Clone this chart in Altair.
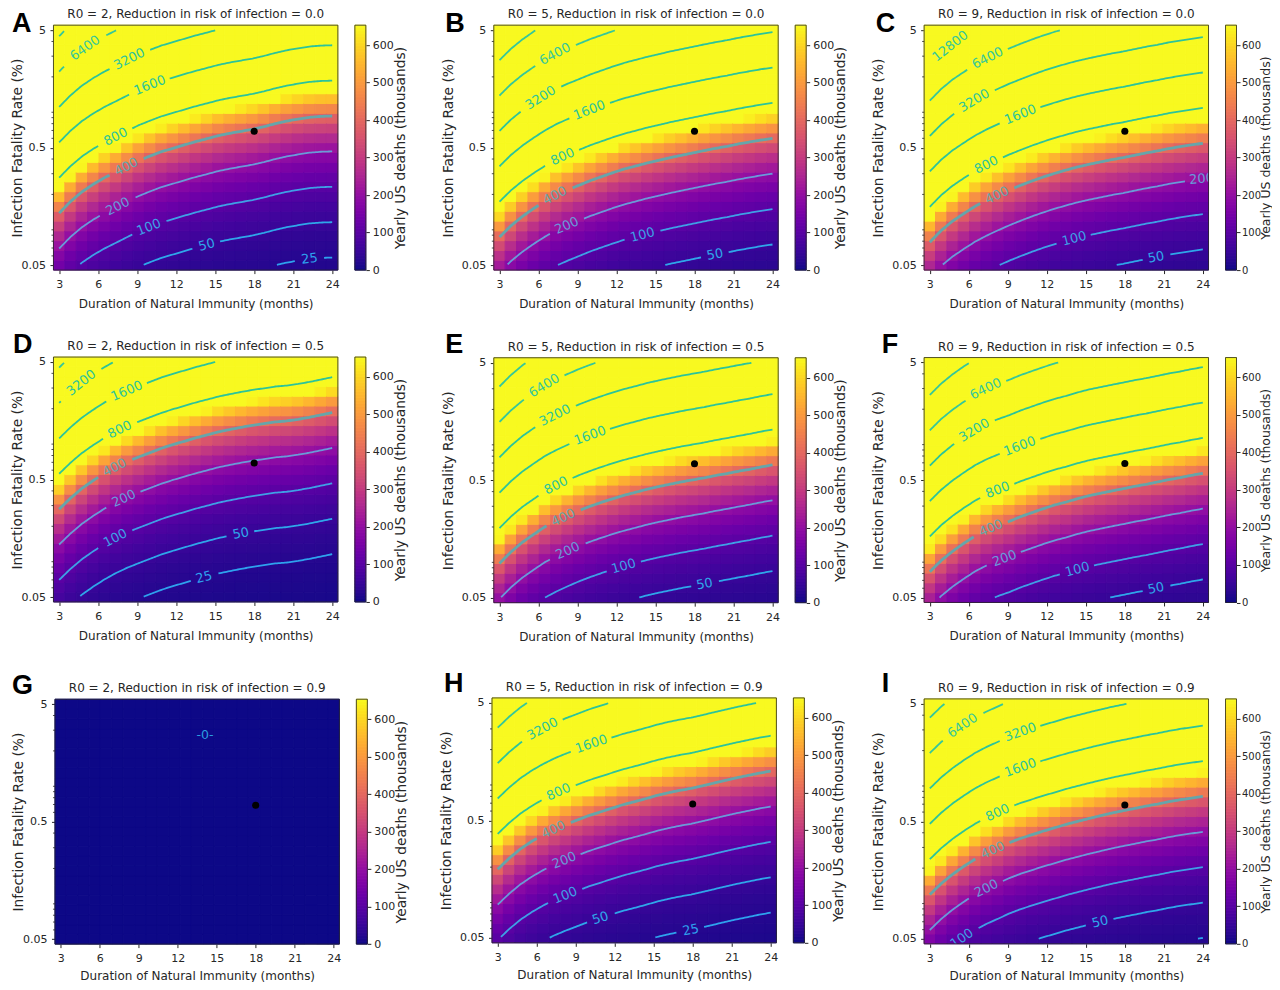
import math
import numpy as np
import altair as alt

# months sampled by the 25 image columns
MONTHS = [3, 3.875, 4.75, 5.625, 6.5, 7.375, 8.25, 9.125, 10, 10.875, 11.75, 12.625, 13.5,
          14.375, 15.25, 16.125, 17, 17.875, 18.75, 19.625, 20.5, 21.375, 22.25, 23.125, 24]
LEVELS = [25, 50, 100, 200, 400, 800, 1600, 3200, 6400, 12800]
LEVEL_COLORS = {25: "#2ea2ee", 50: "#2fa6ea", 100: "#3f9fe6", 200: "#6a9ad8", 400: "#66a5aa", 800: "#2cc49a",
                1600: "#2cc49a", 3200: "#2cc49a", 6400: "#35c79a", 12800: "#35c79a"}
PLASMA = ["#0d0887", "#41049d", "#6a00a8", "#8f0da4", "#b12a90", "#cc4778", "#e16462", "#f2844b", "#fca636",
          "#fcce25", "#f8f920"]

# IFR on the 400k-deaths contour, read column by column: 1000*log10(IFR / 0.5%)
A400 = [-557,-458,-376,-311,-255,-207,-158,-110,-71,-34,-6,23,51,76,102,122,139,156,178,204,226,243,258,266,269]
B400 = [-761,-665,-586,-518,-456,-402,-359,-320,-280,-246,-212,-181,-156,-130,-108,-85,-65,-45,-25,-6,11,31,48,65,79]
C400 = [-804,-705,-625,-560,-498,-447,-402,-359,-320,-283,-249,-218,-190,-164,-142,-122,-102,-85,-65,-45,-28,-8,8,23,37]
D400 = [-252,-158,-76,-8,54,108,153,192,229,266,297,325,354,379,405,425,444,461,475,490,498,512,529,549,569]
E400 = [-708,-611,-529,-461,-396,-345,-300,-258,-221,-187,-156,-127,-102,-76,-54,-34,-14,3,20,40,57,76,93,113,130]
F400 = [-781,-685,-606,-538,-475,-425,-385,-351,-311,-277,-243,-212,-187,-158,-133,-113,-93,-74,-54,-37,-17,3,20,40,57]
H400 = [-416,-323,-243,-178,-122,-74,-34,3,40,71,102,133,158,184,212,235,255,272,294,317,340,362,382,402,419]
I400 = [-623,-529,-450,-382,-320,-269,-226,-181,-144,-113,-82,-54,-25,0,25,48,71,91,110,130,147,167,184,198,212]

# contour label positions: level -> month
A_LABELS = {6400: 5.0, 3200: 8.4, 1600: 9.97, 800: 7.35, 400: 8.17, 200: 7.5, 100: 9.9, 50: 14.35, 25: 22.25}
B_LABELS = {6400: 7.27, 3200: 6.17, 1600: 9.92, 800: 7.86, 400: 7.27, 200: 8.17, 100: 14.0, 50: 19.57}
C_LABELS = {12800: 4.57, 6400: 7.45, 3200: 6.42, 1600: 9.97, 800: 7.35, 400: 8.17, 200: 23.9, 100: 14.1, 50: 20.4}
D_LABELS = {3200: 4.7, 1600: 8.2, 800: 7.66, 400: 7.27, 200: 7.97, 100: 7.32, 50: 16.97, 25: 14.14}
E_LABELS = {6400: 6.45, 3200: 7.27, 1600: 9.97, 800: 7.35, 400: 7.9, 200: 8.25, 100: 12.55, 50: 18.77}
F_LABELS = {6400: 7.3, 3200: 6.42, 1600: 9.92, 800: 8.22, 400: 7.7, 200: 8.74, 100: 14.35, 50: 20.4}
H_LABELS = {3200: 6.45, 1600: 10.2, 800: 7.68, 400: 7.3, 200: 8.12, 100: 8.2, 50: 10.9, 25: 17.85}
I_LABELS = {6400: 5.52, 3200: 9.97, 1600: 9.97, 800: 8.22, 400: 7.86, 200: 7.35, 100: 5.47, 50: 16.1}

TITLES = ["R0 = 2, Reduction in risk of infection = 0.0", "R0 = 5, Reduction in risk of infection = 0.0",
          "R0 = 9, Reduction in risk of infection = 0.0", "R0 = 2, Reduction in risk of infection = 0.5",
          "R0 = 5, Reduction in risk of infection = 0.5", "R0 = 9, Reduction in risk of infection = 0.5",
          "R0 = 2, Reduction in risk of infection = 0.9", "R0 = 5, Reduction in risk of infection = 0.9",
          "R0 = 9, Reduction in risk of infection = 0.9"]
LETTERS = list("ABCDEFGHI")
SERIES = [A400, B400, C400, D400, E400, F400, None, H400, I400]
LABELS = [A_LABELS, B_LABELS, C_LABELS, D_LABELS, E_LABELS, F_LABELS, {}, H_LABELS, I_LABELS]
# plot offset inside each cell and letter offset from the plot corner
DX = [0, 10, 10, 0, 10, 10, 1.5, 8.2, 10]
DY = [0, 0, 0, 0, 0.7, 0.5, 10.3, 9, 10]
LET = [(-41.5, 7), (-48.5, 7), (-48.5, 7), (-40.5, -4), (-48.5, -5), (-42.5, -5), (-43, -5), (-48, -6), (-42.5, -7)]
YT_PAD = [-3, 6, 6, -3, 6, 6, -3, 6, 6]
XT_PAD = [9, 9, 9, 9, 9, 9, 7, 7, 7]
# third-column colour bars are tightened to stay inside the page
CB_PAD = [14, 14, 12, 14, 14, 12, 14, 14, 12]
CB_TITLE_SIZE = [13.8, 13.8, 12.5, 13.8, 13.8, 12.5, 13.8, 13.8, 12.5]
CB_LABEL_SIZE = [11, 11, 10, 11, 11, 10, 11, 11, 10]
CB_LABEL_PAD = [3, 3, 1.5, 3, 3, 1.5, 3, 3, 1.5]

DOT = [{"m": 18, "ifr": 0.69}]
G_ZERO = [{"m": 14.1, "ifr": 2.72}]
MAJOR_Y = [0.05, 0.5, 5]
MINOR_Y = [0.06, 0.07, 0.08, 0.09, 0.1, 0.2, 0.3, 0.4, 0.6, 0.7, 0.8, 0.9, 1, 2, 3, 4]
X_TICKS = [3, 6, 9, 12, 15, 18, 21, 24]
CB_TICKS = [0, 100, 200, 300, 400, 500, 600]
CMAX = 653

W, H, CW, CH = 284.5, 245, 294.5, 255
FONT = "DejaVu Sans"
INK = "#262626"

ROW_E = [math.log10(0.05) + i / 12 for i in range(25)]
STEP_X = 0.4375
YMIN, YMAX = 10 ** (ROW_E[0] - 1 / 24), 10 ** (ROW_E[-1] + 1 / 24)


def heat_rows(a):
    rows = []
    for k, m in enumerate(MONTHS):
        for e in ROW_E:
            v = 0 if a is None else 400 * 10 ** (e - (math.log10(0.5) + a[k] / 1000))
            rows.append({"x0": m - STEP_X, "x1": m + STEP_X, "y0": 10 ** (e - 1 / 24), "y1": 10 ** (e + 1 / 24),
                         "v": round(min(v, CMAX), 1)})
    return rows


def contour_rows(a, labels):
    lines, texts = {}, []
    if a is None:
        return lines, texts
    lo, hi = math.log10(0.05), math.log10(5)
    mm = np.arange(3, 24.001, 0.125)
    for lev in LEVELS:
        ly = np.array([math.log10(0.5) + v / 1000 + math.log10(lev / 400) for v in a])
        yy = np.interp(mm, MONTHS, ly)
        keep = (yy >= lo) & (yy <= hi)
        if lev in labels:
            lm = labels[lev]
            half = {2: 1.0, 3: 1.25, 4: 1.5, 5: 1.9}[len(str(lev))]
            keep &= np.abs(mm - lm) > half
            yl = float(np.interp(lm, MONTHS, ly))
            d = (np.interp(lm + 0.5, MONTHS, ly) - np.interp(lm - 0.5, MONTHS, ly)) * 117.8 / 12.95
            texts.append({"m": lm, "ifr": 10 ** yl, "t": str(lev), "c": LEVEL_COLORS[lev],
                          "ang": (360 - math.degrees(math.atan(d))) % 360})
        seg = 0
        prev = False
        rows = []
        for m, y, f in zip(mm, yy, keep):
            if f and not prev:
                seg += 1
            if f:
                rows.append({"m": float(m), "ifr": float(10 ** y), "id": seg})
            prev = f
        if rows:
            lines[lev] = rows
    return lines, texts


def panel(i):
    dx, dy = DX[i], DY[i]
    xs = alt.Scale(domain=[3 - STEP_X, 24 + STEP_X], range=[dx, dx + W], nice=False, zero=False)
    ys = alt.Scale(type="log", domain=[YMIN, YMAX], range=[dy + H, dy], nice=False)
    cs = alt.Scale(domain=[0, CMAX], range=PLASMA, clamp=True)
    xaxis = alt.Axis(values=X_TICKS, title="Duration of Natural Immunity (months)", domain=False, grid=False,
                     tickSize=3.5, tickColor=INK, labelColor=INK, titleColor=INK, labelFontSize=11, titleFontSize=12,
                     labelFont=FONT, titleFont=FONT, titleFontWeight="normal", labelPadding=5, titlePadding=XT_PAD[i],
                     offset=-(CH - dy - H), labelFlush=False, labelOverlap=False)
    yaxis = alt.Axis(values=MAJOR_Y, format="~g", title="Infection Fatality Rate (%)", domain=False, grid=False,
                     tickSize=3.5, tickColor=INK, labelColor=INK, titleColor=INK, labelFontSize=11, titleFontSize=13.8,
                     labelFont=FONT, titleFont=FONT, titleFontWeight="normal", labelPadding=4.5, titlePadding=YT_PAD[i],
                     offset=-dx, labelOverlap=False)
    heat = alt.Chart(alt.Data(values=heat_rows(SERIES[i]))).mark_rect(strokeWidth=1).encode(
        x=alt.X("x0:Q", scale=xs, axis=xaxis), x2="x1:Q",
        y=alt.Y("y0:Q", scale=ys, axis=yaxis), y2="y1:Q",
        color=alt.Color("v:Q", scale=cs, legend=None),
        stroke=alt.Stroke("v:Q", scale=cs, legend=None))
    minor = alt.Chart(alt.Data(values=[{"v": v} for v in MINOR_Y])).mark_rule(color=INK, strokeWidth=0.8).encode(
        x=alt.value(dx - 2), x2=alt.value(dx), y=alt.Y("v:Q", scale=ys, axis=yaxis))
    frame = alt.Chart(alt.Data(values=[{"a": 1}])).mark_rect(fill=None, stroke=INK, strokeWidth=0.8).encode(
        x=alt.value(dx), x2=alt.value(dx + W), y=alt.value(dy), y2=alt.value(dy + H))
    lines, texts = contour_rows(SERIES[i], LABELS[i])
    px = alt.X("m:Q", scale=xs, axis=xaxis)
    py = alt.Y("ifr:Q", scale=ys, axis=yaxis)
    parts = [heat, minor]
    for lev, rows in lines.items():
        parts.append(alt.Chart(alt.Data(values=rows)).mark_line(
            color=LEVEL_COLORS[lev], strokeWidth=2.8 if lev == 400 else 1.8).encode(
            x=px, y=py, detail="id:N", order="m:Q"))
    if texts:
        parts.append(alt.Chart(alt.Data(values=texts)).mark_text(
            font=FONT, fontSize=13, clip=True, align="center", baseline="middle").encode(
            x=px, y=py, text="t:N", color=alt.Color("c:N", scale=None), angle=alt.Angle("ang:Q", scale=None)))
    else:
        parts.append(alt.Chart(alt.Data(values=G_ZERO)).mark_text(
            color="#2a9fe0", font=FONT, fontSize=12.5, align="center", baseline="middle", text="-0-").encode(x=px, y=py))
    parts.append(alt.Chart(alt.Data(values=DOT)).mark_circle(size=50, color="black", opacity=1).encode(x=px, y=py))
    parts.append(frame)
    parts.append(alt.Chart(alt.Data(values=[{"a": 1}])).mark_text(
        font=FONT, fontSize=12, color=INK, align="center", baseline="middle", text=TITLES[i]).encode(
        x=alt.value(dx + W / 2), y=alt.value(dy - 11)))
    parts.append(alt.Chart(alt.Data(values=[{"a": 1}])).mark_text(
        font="Liberation Sans", fontSize=27, fontWeight="bold", color="black", align="left", baseline="alphabetic",
        text=LETTERS[i]).encode(x=alt.value(dx + LET[i][0]), y=alt.value(dy + LET[i][1])))
    inner = alt.layer(*parts)

    cb_rows = [{"a": int(v), "b": min(int(v) + 8, CMAX), "c": int(v) + 4, "x0": 0, "x1": 1} for v in np.arange(0, CMAX, 8)]
    cy = alt.Scale(domain=[0, CMAX], range=[dy + H, dy], nice=False, zero=False)
    cx = alt.Scale(domain=[0, 1], range=[dx + 301.5, dx + 312.5], nice=False, zero=False)
    cyaxis = alt.Axis(values=CB_TICKS, orient="right", title="Yearly US deaths (thousands)", domain=False, grid=False,
                      tickSize=3.5, tickColor=INK, labelColor=INK, titleColor=INK, labelFontSize=CB_LABEL_SIZE[i],
                      titleFontSize=CB_TITLE_SIZE[i], labelFont=FONT, titleFont=FONT, titleFontWeight="normal",
                      labelPadding=CB_LABEL_PAD[i], titlePadding=CB_PAD[i],
                      titleAngle=270, titleBaseline="bottom", offset=dx + 312.5 - CW, labelOverlap=False, format="d")
    cbar = alt.Chart(alt.Data(values=cb_rows)).mark_rect(strokeWidth=1).encode(
        x=alt.X("x0:Q", scale=cx, axis=None), x2="x1:Q",
        y=alt.Y("a:Q", scale=cy, axis=cyaxis), y2="b:Q",
        color=alt.Color("c:Q", scale=cs, legend=None),
        stroke=alt.Stroke("c:Q", scale=cs, legend=None))
    cframe = alt.Chart(alt.Data(values=[{"a": 1}])).mark_rect(fill=None, stroke=INK, strokeWidth=0.8).encode(
        x=alt.value(dx + 301.5), x2=alt.value(dx + 312.5), y=alt.value(dy), y2=alt.value(dy + H))
    return alt.layer(inner, alt.layer(cbar, cframe)).resolve_scale(
        x="independent", y="independent", color="independent", stroke="independent").properties(width=CW, height=CH)


chart = alt.concat(*[panel(i) for i in range(9)], columns=3, bounds="flush",
                   spacing={"row": 77, "column": 135.5}).configure_view(stroke=None).properties(
    padding={"left": 1.5, "top": 0, "right": -1, "bottom": 0})
chart.save("out.html", embed_options={"renderer": "svg", "actions": False})
